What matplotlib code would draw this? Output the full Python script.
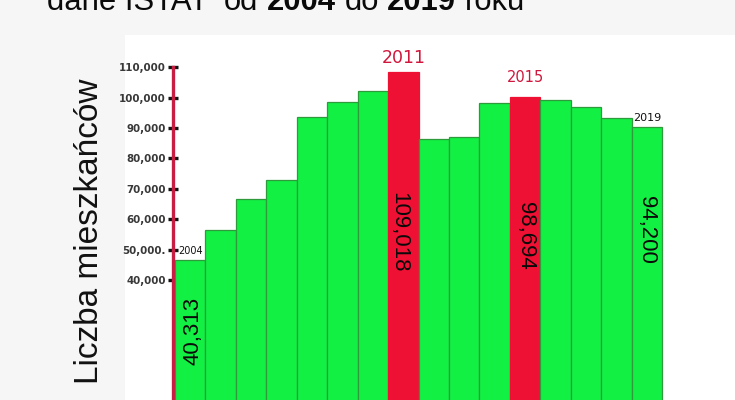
import matplotlib
matplotlib.use('Agg')
import matplotlib.pyplot as plt

# ---- data ----
years = [2004, 2005, 2006, 2007, 2008, 2009, 2010, 2011,
         2012, 2013, 2014, 2015, 2016, 2017, 2018, 2019]
values = [46600, 56500, 66600, 72900, 93600, 98600, 102200, 108400,
          86400, 87000, 98200, 100200, 99200, 96900, 93300, 90300]
highlight_years = [2011, 2015]
tick_values = [40000, 50000, 60000, 70000, 80000, 90000, 100000, 110000]
tick_labels = ['40,000', '50,000.', '60,000', '70,000', '80,000', '90,000',
               '100,000', '110,000']
value_label_years = [2004, 2011, 2015, 2019]
value_label_texts = ['40,313', '109,018', '98,694', '94,200']
title_parts = ['dane ISTAT', 'od', '2004', 'do', '2019', 'roku']
title_bold = [False, False, True, False, True, False]
ylabel = 'Liczba mieszkańców'

GREEN = '#12f043'
GREEN_EDGE = '#2f9a3c'
RED = '#ee1133'
RED_TEXT = '#d0163c'
AXIS_RED = '#c81e44'

W, H = 735, 400
fig = plt.figure(figsize=(W / 100, H / 100), dpi=100)
fig.patch.set_facecolor('#f7f6f7')

# white panel (background axes)
bg = fig.add_axes([125 / W, 0, 1 - 125 / W, (H - 35) / H], zorder=-5)
bg.set_facecolor('white')
bg.set_xticks([])
bg.set_yticks([])
for s in bg.spines.values():
    s.set_visible(False)

ax = fig.add_axes([173 / W, 0, (W - 173) / W, (H - 35) / H], zorder=1)
ax.set_facecolor('none')

px_per_unit_y = 30.4 / 10000.0
y0 = (401.6 - 400) / px_per_unit_y
y1 = (401.6 - 35) / px_per_unit_y
ax.set_ylim(y0, y1)
bar_px = 30.44
xl = -0.5 - 2 / bar_px
ax.set_xlim(xl, xl + (W - 173) / bar_px)

xs = list(range(len(years)))
colors = [RED if y in highlight_years else GREEN for y in years]
edges = [RED if y in highlight_years else GREEN_EDGE for y in years]
ax.bar(xs, values, width=1.0, color=colors, edgecolor=edges, linewidth=0.9,
       zorder=2)

for s in ['top', 'right', 'bottom']:
    ax.spines[s].set_visible(False)
ax.spines['left'].set_color(AXIS_RED)
ax.spines['left'].set_linewidth(2.4)
ax.spines['left'].set_bounds(y0, 110000)
ax.spines['left'].set_zorder(3)
ax.set_xticks([])
ax.set_yticks(tick_values)
ax.set_yticklabels(tick_labels)
ax.tick_params(axis='y', direction='inout', length=7.5, width=2.4,
               color='#111111', pad=1.5, labelsize=7.4, labelcolor='#383838')
for lab in ax.get_yticklabels():
    lab.set_fontweight('bold')
    lab.set_family('DejaVu Sans')

def idx(y):
    return years.index(y)

ax.annotate('2004', (idx(2004), values[idx(2004)]), xytext=(0.5, 3),
            textcoords='offset points', ha='center', va='bottom',
            fontsize=7, family='DejaVu Sans', color='#111111', zorder=4)
ax.annotate('2019', (idx(2019), values[idx(2019)]), xytext=(0, 3),
            textcoords='offset points', ha='center', va='bottom',
            fontsize=8, family='DejaVu Sans', color='#111111', zorder=4)
ax.annotate('2011', (idx(2011), values[idx(2011)]), xytext=(0, 4),
            textcoords='offset points', ha='center', va='bottom',
            fontsize=12.5, family='DejaVu Sans', color=RED_TEXT, zorder=4)
ax.annotate('2015', (idx(2015), values[idx(2015)]), xytext=(0, 8.5),
            textcoords='offset points', ha='center', va='bottom',
            fontsize=10.5, family='DejaVu Sans', color=RED_TEXT, zorder=4)

# rotated value labels inside bars (y positions in axes fraction)
label_pos = {2004: (0.1, 0.189, 90), 2011: (-0.15, 0.46, 270),
             2015: (0.0, 0.449, 270), 2019: (0.0, 0.466, 270)}
for yr, txt in zip(value_label_years, value_label_texts):
    dx, fy, rot = label_pos[yr]
    ax.text(idx(yr) + dx, fy, txt, transform=ax.get_xaxis_transform(),
            rotation=rot, ha='center', va='center', fontsize=16,
            family='Liberation Sans', color='#0a0a0a', zorder=4)

# y label
fig.text(90 / W, 1 - 231 / H, ylabel, rotation=90, ha='center', va='center',
         fontsize=24, family='Liberation Sans', color='#111111')

# title in pieces
fig.canvas.draw()
renderer = fig.canvas.get_renderer()
x = 47.0
tsize = 22.3
space = 0.278 * tsize * 100 / 72
gaps = [1.8, 1, 1, 1, 1, 0]
for part, bold, g in zip(title_parts, title_bold, gaps):
    t = fig.text(x / W, 1 - 9.5 / H, part, ha='left', va='baseline',
                 fontsize=tsize, family='Liberation Sans',
                 fontweight='bold' if bold else 'normal', color='#0a0a0a')
    bb = t.get_window_extent(renderer)
    x += bb.width + g * space

fig.savefig('out.png', dpi=100, facecolor=fig.get_facecolor())
